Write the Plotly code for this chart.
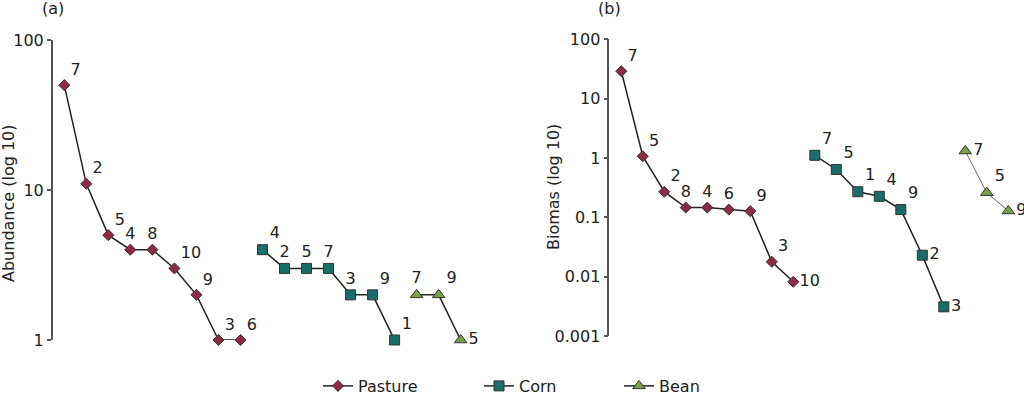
import plotly.graph_objects as go

# ---------------- data ----------------
# Panel (a): abundance
pasture_a_labels = ["7", "2", "5", "4", "8", "10", "9", "3", "6"]
pasture_a_values = [50, 11, 5, 4, 4, 3, 2, 1, 1]
corn_a_labels = ["4", "2", "5", "7", "3", "9", "1"]
corn_a_values = [4, 3, 3, 3, 2, 2, 1]
bean_a_labels = ["7", "9", "5"]
bean_a_values = [2, 2, 1]

# Panel (b): biomass
pasture_b_labels = ["7", "5", "2", "8", "4", "6", "9", "3", "10"]
pasture_b_values = [29, 1.07, 0.27, 0.146, 0.146, 0.135, 0.127, 0.0178, 0.0082]
corn_b_labels = ["7", "5", "1", "4", "9", "2", "3"]
corn_b_values = [1.11, 0.64, 0.27, 0.226, 0.135, 0.023, 0.0031]
bean_b_labels = ["7", "5", "9"]
bean_b_values = [1.31, 0.26, 0.128]

series_names = ["Pasture", "Corn", "Bean"]
tickvals_a = [1, 10, 100]
ticktext_a = ["1", "10", "100"]
tickvals_b = [0.001, 0.01, 0.1, 1, 10, 100]
ticktext_b = ["0.001", "0.01", "0.1", "1", "10", "100"]

# ---------------- styles ----------------
FONT = "DejaVu Sans"
TXT = "#222222"
FS = 16
C_PAST = "#8e2a42"
C_CORN = "#1a6e6a"
C_BEAN = "#7ba04a"
EDGE = "#333333"

pos_pasture_a = ["top right", "top right", "top right", "top center", "top center",
                 "top right", "top right", "top right", "top right"]
pos_corn_a = ["top right", "top center", "top center", "top center", "top center",
              "top right", "top right"]
pos_bean_a = ["top center", "top right", "middle right"]
pos_pasture_b = ["top right", "top right", "top right", "top center", "top center",
                 "top center", "top right", "top right", "middle right"]
pos_corn_b = ["top right", "top right", "top right", "top right", "top right",
              "middle right", "middle right"]
pos_bean_b = ["middle right", "top right", "middle right"]

fig = go.Figure()


def add_series(xref_axis, yref_axis, xstart, labels, values, name, color, symbol,
               size, positions, legend, showlegend, line_color="#222222", line_width=1.5):
    xs = list(range(xstart, xstart + len(values)))
    fig.add_trace(go.Scatter(
        x=xs, y=values, text=labels, mode="lines+markers+text",
        textposition=positions,
        textfont=dict(family=FONT, size=FS, color=TXT),
        line=dict(color=line_color, width=line_width),
        marker=dict(symbol=symbol, size=size, color=color,
                    line=dict(color=EDGE, width=1)),
        name=name, legendgroup=name, legend=legend, showlegend=showlegend,
        xaxis=xref_axis, yaxis=yref_axis, cliponaxis=False,
    ))


add_series("x", "y", 1, pasture_a_labels, pasture_a_values, "Pasture", C_PAST, "diamond", 8.5,
           pos_pasture_a, "legend", True)
add_series("x", "y", 10, corn_a_labels, corn_a_values, "Corn", C_CORN, "square", 10,
           pos_corn_a, "legend2", True)
add_series("x", "y", 17, bean_a_labels, bean_a_values, "Bean", C_BEAN, "triangle-up", 11,
           pos_bean_a, "legend3", True)

add_series("x2", "y2", 1, pasture_b_labels, pasture_b_values, "Pasture", C_PAST, "diamond", 8.5,
           pos_pasture_b, "legend", False)
add_series("x2", "y2", 10, corn_b_labels, corn_b_values, "Corn", C_CORN, "square", 10,
           pos_corn_b, "legend2", False)
add_series("x2", "y2", 17, bean_b_labels, bean_b_values, "Bean", C_BEAN, "triangle-up", 11,
           pos_bean_b, "legend3", False, line_color="#666666", line_width=1)

W, H = 1024, 396

xaxis_common = dict(showline=False, showticklabels=False, showgrid=False,
                    zeroline=False, ticks="", automargin=False)
yaxis_common = dict(type="log", showline=True, linecolor="#555555", linewidth=1.5,
                    ticks="outside", ticklen=4, tickcolor="#555555", tickwidth=1.5,
                    showgrid=False, zeroline=False, automargin=False,
                    tickfont=dict(family=FONT, size=FS, color=TXT))

legend_common = dict(orientation="h", yref="paper", xref="container",
                     yanchor="bottom", y=-7 / H, xanchor="left",
                     font=dict(family=FONT, size=FS, color=TXT),
                     bgcolor="rgba(0,0,0,0)", borderwidth=0)

fig.update_layout(
    width=W, height=H, margin=dict(l=0, r=0, t=0, b=0, autoexpand=False),
    paper_bgcolor="white", plot_bgcolor="white",
    font=dict(family=FONT, size=FS, color=TXT),
    xaxis=dict(domain=[52.7 / W, 480 / W], range=[0.473, 19.878], **xaxis_common),
    yaxis=dict(domain=[56 / H, 356 / H], range=[0, 2], tickvals=tickvals_a,
               ticktext=ticktext_a, anchor="x", **yaxis_common),
    xaxis2=dict(domain=[609.3 / W, 1.0], range=[0.442, 19.73], **xaxis_common),
    yaxis2=dict(domain=[60 / H, 356.7 / H], range=[-3, 2], tickvals=tickvals_b,
                ticktext=ticktext_b, anchor="x2", **yaxis_common),
    legend=dict(x=318 / W, **legend_common),
    legend2=dict(x=479 / W, **legend_common),
    legend3=dict(x=619 / W, **legend_common),
    annotations=[
        dict(text="(a)", x=53 / W, y=1 - 8 / H, xref="paper", yref="paper",
             showarrow=False, font=dict(family=FONT, size=FS, color=TXT),
             xanchor="center", yanchor="middle"),
        dict(text="(b)", x=609.5 / W, y=1 - 8 / H, xref="paper", yref="paper",
             showarrow=False, font=dict(family=FONT, size=FS, color=TXT),
             xanchor="center", yanchor="middle"),
        dict(text="Abundance (log 10)", x=8.5 / W, y=1 - 203.5 / H, xref="paper",
             yref="paper", showarrow=False, textangle=-90,
             font=dict(family=FONT, size=FS, color=TXT),
             xanchor="center", yanchor="middle"),
        dict(text="Biomas (log 10)", x=553.5 / W, y=1 - 187.5 / H, xref="paper",
             yref="paper", showarrow=False, textangle=-90,
             font=dict(family=FONT, size=FS, color=TXT),
             xanchor="center", yanchor="middle"),
    ],
)

fig.write_html("out.html",
               config={"displayModeBar": False},
               post_script="document.body.style.margin='0px';"
                           "document.body.style.overflow='hidden';")
